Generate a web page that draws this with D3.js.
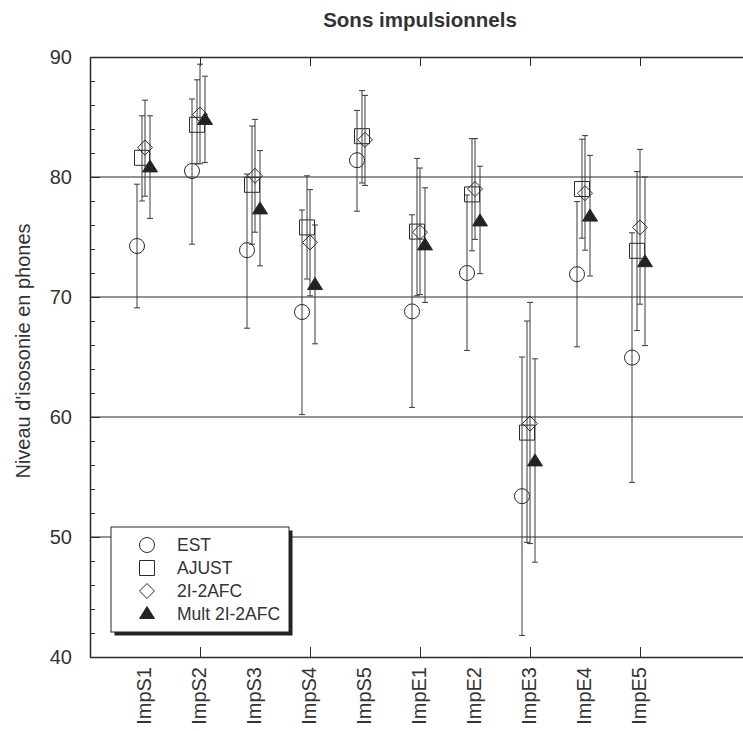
<!DOCTYPE html>
<html lang="fr">

<head>
    <meta charset="UTF-8">
    <title>Sons impulsionnels</title>
    <script src="https://d3js.org/d3.v7.min.js"></script>
    <style>
        body { margin: 0; background: #fff; }
        text { font-family: "Liberation Sans", Arial, Helvetica, sans-serif; fill: #333; }
    </style>
</head>

<body>
    <svg class="svgs" width="743" height="731"></svg>

    <script>
        // data
        const categories = ['ImpS1', 'ImpS2', 'ImpS3', 'ImpS4', 'ImpS5', 'ImpE1', 'ImpE2', 'ImpE3', 'ImpE4', 'ImpE5'];
        const seriesNames = ['EST', 'AJUST', '2I-2AFC', 'Mult 2I-2AFC'];

        const estMean = [74.25, 80.5, 73.9, 68.75, 81.4, 68.8, 72.0, 53.4, 71.9, 64.95];
        const estLow = [69.1, 74.4, 67.4, 60.2, 77.15, 60.8, 65.55, 41.8, 65.85, 54.55];
        const estHigh = [79.4, 86.5, 80.25, 77.25, 85.55, 76.85, 78.5, 65.0, 77.95, 75.35];

        const ajustMean = [81.6, 84.35, 79.35, 75.8, 83.4, 75.45, 78.55, 58.7, 79.0, 73.85];
        const ajustLow = [78.0, 81.1, 74.4, 71.5, 79.5, 70.1, 73.85, 49.55, 74.9, 67.2];
        const ajustHigh = [85.1, 88.1, 84.25, 80.1, 87.2, 81.55, 83.2, 68.0, 83.15, 80.45];

        const afcMean = [82.45, 85.2, 80.1, 74.55, 83.1, 75.4, 79.0, 59.45, 78.65, 75.8];
        const afcLow = [78.4, 81.1, 75.4, 70.1, 79.3, 70.2, 74.8, 49.45, 73.9, 69.4];
        const afcHigh = [86.4, 89.4, 84.8, 78.95, 86.8, 80.75, 83.2, 69.55, 83.45, 82.3];

        const multMean = [80.8, 84.75, 77.3, 71.0, null, 74.3, 76.3, 56.3, 76.7, 72.9];
        const multLow = [76.55, 81.2, 72.6, 66.1, null, 69.55, 71.95, 47.9, 71.75, 65.95];
        const multHigh = [85.1, 88.4, 82.2, 76.0, null, 79.1, 80.9, 64.85, 81.8, 80.0];

        const yTicks = [40, 50, 60, 70, 80, 90];
        const gridValues = [50, 60, 70, 80];

        const svg = d3.select('.svgs');
        const margin = { top: 57, left: 90 };
        const plotRight = 750;   // frame runs past the right edge of the picture
        const plotBottom = 657;
        const ink = '#2a2a2a';

        const xScale = d3.scaleLinear().domain([-1, 11]).range([margin.left, plotRight]);
        const yScale = d3.scaleLinear().domain([40, 90]).range([plotBottom, margin.top]);

        // gridlines
        svg.append('g').selectAll('line').data(gridValues).join('line')
            .attr('x1', margin.left).attr('x2', plotRight)
            .attr('y1', d => yScale(d)).attr('y2', d => yScale(d))
            .attr('stroke', ink).attr('stroke-width', 1.2);

        // left axis, ticks pointing inward
        const yAxis = svg.append('g')
            .attr('transform', `translate(${margin.left},0)`)
            .call(d3.axisLeft(yScale).tickValues(yTicks).tickSize(-10).tickSizeOuter(0).tickPadding(18));
        svg.append('g')
            .attr('transform', `translate(${margin.left},0)`)
            .call(d3.axisLeft(yScale).tickValues(d3.range(40, 91, 2)).tickSize(-5).tickSizeOuter(0).tickFormat(''))
            .call(g => g.select('.domain').remove());
        yAxis.selectAll('text').style('font-size', '20px').attr('fill', ink);

        // bottom and top axes
        const xTickValues = [1, 3, 5, 7, 9];
        svg.append('g')
            .attr('transform', `translate(0,${plotBottom})`)
            .call(d3.axisBottom(xScale).tickValues(xTickValues).tickSize(-10).tickSizeOuter(0).tickFormat(''));
        svg.append('g')
            .attr('transform', `translate(0,${margin.top})`)
            .call(d3.axisTop(xScale).tickValues(xTickValues).tickSize(-9).tickSizeOuter(0).tickFormat(''));
        svg.selectAll('.domain').attr('stroke', ink).attr('stroke-width', 1.5);
        svg.selectAll('.tick line').attr('stroke', ink);

        // category labels, rotated
        svg.append('g').selectAll('text').data(categories).join('text')
            .attr('transform', (d, i) => `translate(${xScale(i) + 6},667) rotate(-90)`)
            .attr('text-anchor', 'end')
            .style('font-size', '20px')
            .text(d => d);

        // y label + title
        svg.append('text')
            .attr('transform', 'translate(30,351) rotate(-90)')
            .attr('text-anchor', 'middle')
            .style('font-size', '20px')
            .text("Niveau d'isosonie en phones");
        svg.append('text')
            .attr('x', 420).attr('y', 27)
            .attr('text-anchor', 'middle')
            .style('font-size', '20.5px').style('font-weight', 'bold')
            .text('Sons impulsionnels');

        // symbols
        const triangle = () => 'M0,-7.5L7.5,4.5L-7.5,4.5Z';
        const symbolFor = {
            'EST': d3.symbol(d3.symbolCircle, 177),
            'AJUST': d3.symbol(d3.symbolSquare, 225),
            '2I-2AFC': d3.symbol(d3.symbolDiamond2, 143),
            'Mult 2I-2AFC': triangle
        };
        const series = [
            { name: 'EST', mean: estMean, low: estLow, high: estHigh, dx: -8, fill: 'none' },
            { name: 'AJUST', mean: ajustMean, low: ajustLow, high: ajustHigh, dx: -3, fill: 'none' },
            { name: '2I-2AFC', mean: afcMean, low: afcLow, high: afcHigh, dx: 0, fill: 'none' },
            { name: 'Mult 2I-2AFC', mean: multMean, low: multLow, high: multHigh, dx: 5, fill: '#222' }
        ];

        const capW = 3;
        series.forEach(s => {
            const pts = s.mean.map((m, i) => ({ i: i, m: m, lo: s.low[i], hi: s.high[i] }))
                .filter(p => p.m !== null);
            const g = svg.append('g');
            const px = p => xScale(p.i) + s.dx;

            g.selectAll('.bar').data(pts).join('line')
                .attr('x1', px).attr('x2', px)
                .attr('y1', p => yScale(p.lo)).attr('y2', p => yScale(p.hi))
                .attr('stroke', '#3a3a3a');
            g.selectAll('.capLo').data(pts).join('line')
                .attr('x1', p => px(p) - capW).attr('x2', p => px(p) + capW)
                .attr('y1', p => yScale(p.lo)).attr('y2', p => yScale(p.lo))
                .attr('stroke', '#3a3a3a');
            g.selectAll('.capHi').data(pts).join('line')
                .attr('x1', p => px(p) - capW).attr('x2', p => px(p) + capW)
                .attr('y1', p => yScale(p.hi)).attr('y2', p => yScale(p.hi))
                .attr('stroke', '#3a3a3a');

            g.selectAll('path').data(pts).join('path')
                .attr('d', symbolFor[s.name])
                .attr('transform', p => `translate(${px(p)},${yScale(p.m)})`)
                .attr('fill', s.fill)
                .attr('stroke', ink);
        });

        // legend
        const lg = svg.append('g').attr('transform', 'translate(111,527)');
        lg.append('rect').attr('x', 3.5).attr('y', 3.5).attr('width', 178).attr('height', 105).attr('fill', '#222');
        lg.append('rect').attr('width', 178).attr('height', 105).attr('fill', '#fff').attr('stroke', ink);
        seriesNames.forEach((name, i) => {
            const ry = 18 + i * 23;
            const s = series.find(d => d.name === name);
            lg.append('path')
                .attr('d', symbolFor[name])
                .attr('transform', `translate(36,${ry})`)
                .attr('fill', s.fill).attr('stroke', ink);
            lg.append('text')
                .attr('x', 66).attr('y', ry)
                .attr('dy', '0.36em')
                .style('font-size', '17.5px')
                .text(name);
        });
    </script>
</body>

</html>
